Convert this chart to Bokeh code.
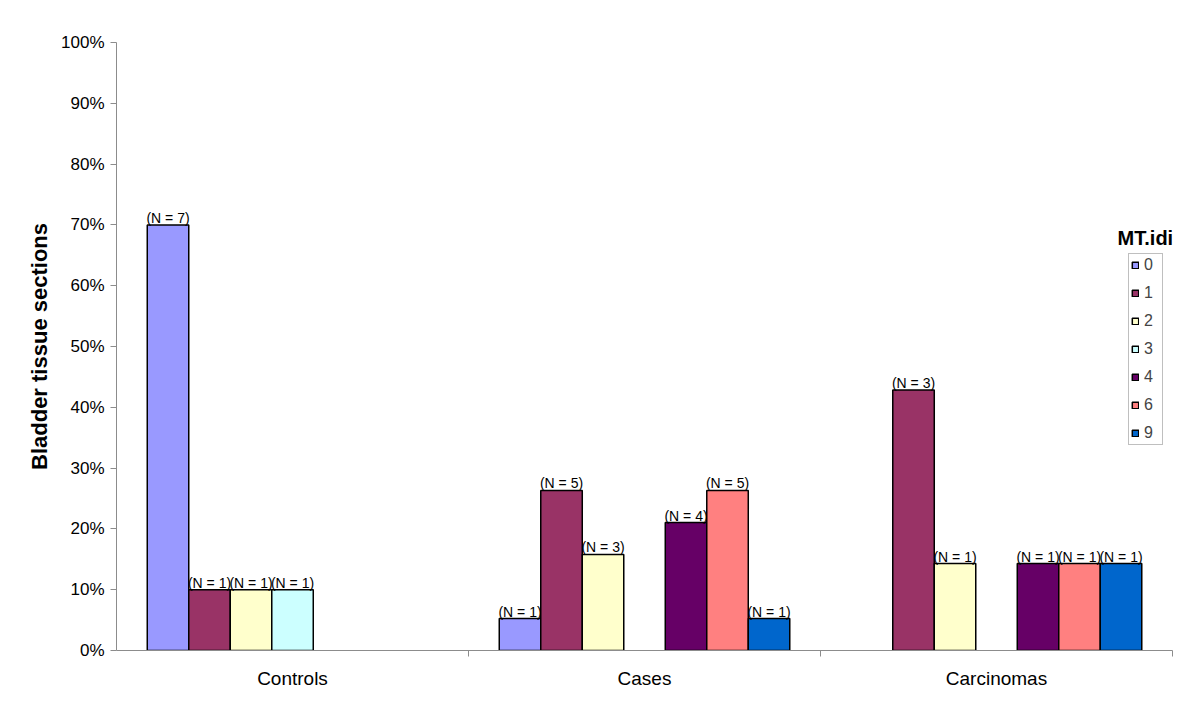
from bokeh.plotting import figure
from bokeh.models import (ColumnDataSource, FixedTicker, PrintfTickFormatter,
                          Legend, LegendItem, Label, Range1d)
from bokeh.core.properties import value
from bokeh.embed import file_html
from bokeh.resources import INLINE

# ---- data ----
groups = ["Controls", "Cases", "Carcinomas"]
series = ["0", "1", "2", "3", "4", "6", "9"]
colors = ["#9999FF", "#993366", "#FFFFCC", "#CCFFFF", "#660066", "#FF8080", "#0066CC"]
pct_controls = [70.0, 10.0, 10.0, 10.0, 0.0, 0.0, 0.0]
pct_cases = [5.26, 26.32, 15.79, 0.0, 21.05, 26.32, 5.26]
pct_carcinomas = [0.0, 42.86, 14.29, 0.0, 14.29, 14.29, 14.29]
n_controls = [7, 1, 1, 1, 0, 0, 0]
n_cases = [1, 5, 3, 0, 4, 5, 1]
n_carcinomas = [0, 3, 1, 0, 1, 1, 1]
y_ticks = [0, 10, 20, 30, 40, 50, 60, 70, 80, 90, 100]

pct = [pct_controls, pct_cases, pct_carcinomas]
ns = [n_controls, n_cases, n_carcinomas]

FONT = "Liberation Sans"

p = figure(width=1192, height=708, output_backend="svg", toolbar_location=None,
           x_range=Range1d(-0.5, 2.5), y_range=Range1d(0, 100),
           min_border_left=116, min_border_right=20, min_border_top=42,
           min_border_bottom=58)
p.outline_line_color = None
p.xgrid.visible = False
p.ygrid.visible = False
p.background_fill_color = "white"
p.border_fill_color = "white"

slot = 0.1179
gap = 0.0874
legend_items = []
for i, (s, c) in enumerate(zip(series, colors)):
    xs, ys, labels = [], [], []
    for g in range(3):
        v = pct[g][i]
        if v > 0:
            xs.append(g - 0.5 + gap + (i + 0.5) * slot)
            ys.append(v)
            labels.append("(N = %d)" % ns[g][i])
    src = ColumnDataSource(dict(x=xs, top=ys, label=labels))
    r = p.vbar(x="x", top="top", bottom=0, width=slot, source=src,
               fill_color=c, line_color="black", line_width=1.5)
    p.text(x="x", y="top", text="label", source=src, text_align="center",
           text_baseline="bottom", text_font=value(FONT),
           text_font_size="14px", text_color="black", y_offset=1)
    legend_items.append(LegendItem(label=s, renderers=[r]))

# axes
axc = "#8c8c8c"
xa = p.xaxis[0]
xa.ticker = FixedTicker(ticks=[0, 1, 2], minor_ticks=[0.5, 1.5, 2.5])
xa.major_label_overrides = {0: "Controls", 1: "Cases", 2: "Carcinomas"}
xa.major_tick_out = 0
xa.major_tick_in = 0
xa.minor_tick_out = 6
xa.minor_tick_in = 0
xa.minor_tick_line_color = axc
xa.axis_line_color = axc
xa.major_label_text_font = FONT
xa.major_label_text_font_size = "19px"
xa.major_label_text_color = "black"
xa.major_label_standoff = 11

ya = p.yaxis[0]
ya.ticker = FixedTicker(ticks=y_ticks, minor_ticks=[])
ya.formatter = PrintfTickFormatter(format="%d%%")
ya.major_tick_out = 6
ya.major_tick_in = 0
ya.major_tick_line_color = axc
ya.axis_line_color = axc
ya.major_label_text_font = FONT
ya.major_label_text_font_size = "17px"
ya.major_label_text_color = "black"
ya.major_label_standoff = 6
ya.axis_label = "Bladder tissue sections"
ya.axis_label_text_font = FONT
ya.axis_label_text_font_style = "bold"
ya.axis_label_text_font_size = "22px"
ya.axis_label_text_color = "black"
ya.axis_label_standoff = 6

legend = Legend(items=legend_items, location=(1012, 205),
                glyph_width=8, glyph_height=8, label_width=16, label_height=17,
                label_standoff=5, spacing=10, padding=2, margin=0,
                label_text_font=FONT, label_text_font_size="16px",
                border_line_color="#808080", border_line_width=1,
                background_fill_color="white", background_fill_alpha=1)
p.add_layout(legend, "center")

title = Label(x=2.423, y=67.9, text="MT.idi", text_align="center",
              text_baseline="middle", text_font=FONT, text_font_style="bold",
              text_font_size="20px", text_color="black")
p.add_layout(title)

open("out.html", "w").write(file_html(p, INLINE))
